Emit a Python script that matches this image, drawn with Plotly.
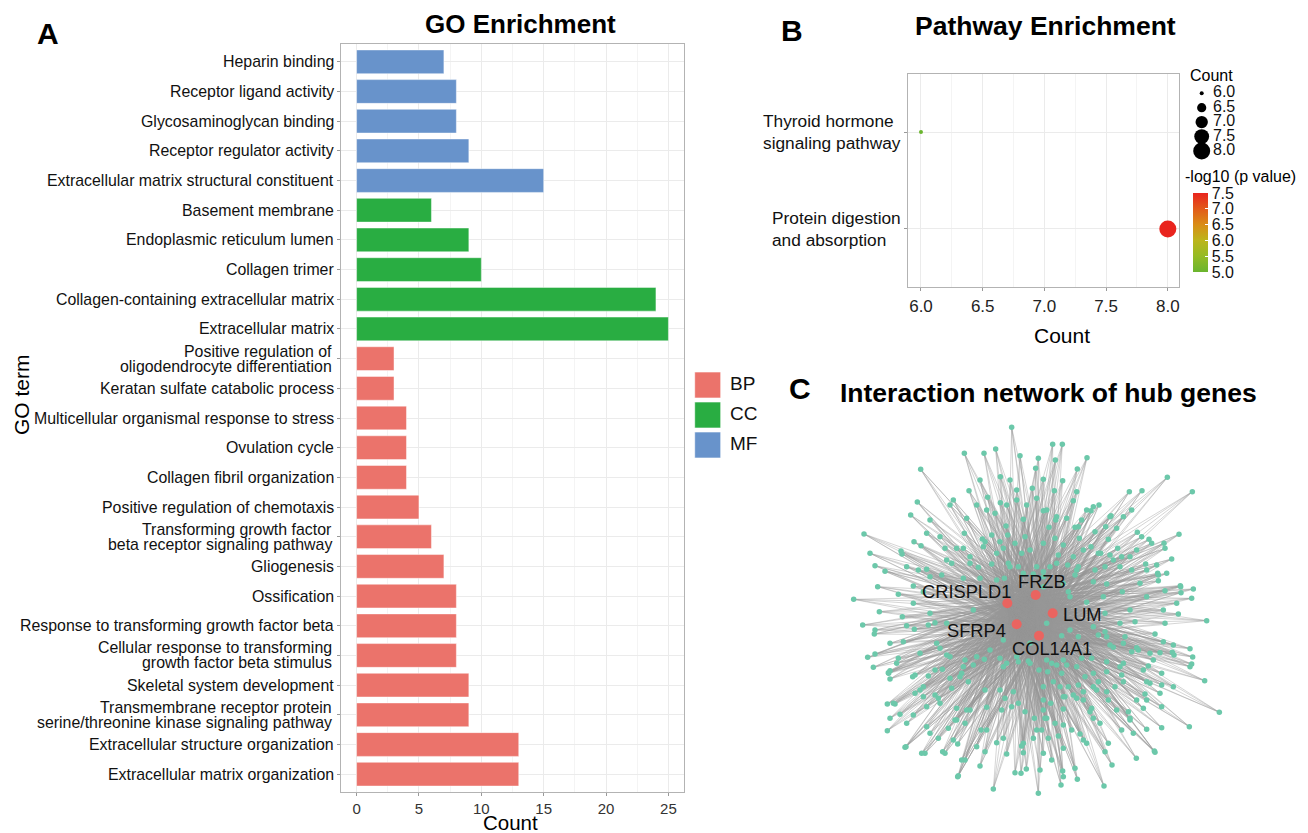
import math
import plotly.graph_objects as go

W, H = 1308, 833
FONT = "Liberation Sans, Arial, sans-serif"

# ---------------- Panel A data (top to bottom) ----------------
go_terms = [
    "Heparin binding",
    "Receptor ligand activity",
    "Glycosaminoglycan binding",
    "Receptor regulator activity",
    "Extracellular matrix structural constituent",
    "Basement membrane",
    "Endoplasmic reticulum lumen",
    "Collagen trimer",
    "Collagen-containing extracellular matrix",
    "Extracellular matrix",
    "Positive regulation of \noligodendrocyte differentiation",
    "Keratan sulfate catabolic process",
    "Multicellular organismal response to stress",
    "Ovulation cycle",
    "Collagen fibril organization",
    "Positive regulation of chemotaxis",
    "Transforming growth factor \nbeta receptor signaling pathway",
    "Gliogenesis",
    "Ossification",
    "Response to transforming growth factor beta",
    "Cellular response to transforming \ngrowth factor beta stimulus",
    "Skeletal system development",
    "Transmembrane receptor protein \nserine/threonine kinase signaling pathway",
    "Extracellular structure organization",
    "Extracellular matrix organization",
]
go_counts = [7, 8, 8, 9, 15, 6, 9, 10, 24, 25, 3, 3, 4, 4, 4, 5, 6, 7, 8, 8, 8, 9, 9, 13, 13]
go_class = ["MF"] * 5 + ["CC"] * 5 + ["BP"] * 15
class_names = ["BP", "CC", "MF"]
class_colors = {"BP": "#EB736B", "CC": "#29AD42", "MF": "#6893CB"}
go_xticks = [0, 5, 10, 15, 20, 25]

# ---------------- Panel B data ----------------
path_terms = ["Thyroid hormone\nsignaling pathway", "Protein digestion\nand absorption"]
path_counts = [6, 8]
path_logp = [5.0, 7.5]
size_legend_vals = [6.0, 6.5, 7.0, 7.5, 8.0]
cbar_ticks = [5.0, 5.5, 6.0, 6.5, 7.0, 7.5]
path_xticks = [6.0, 6.5, 7.0, 7.5, 8.0]

# ---------------- Panel C data (layout coordinates) ----------------
hub_genes = ["CRISPLD1", "FRZB", "LUM", "SFRP4", "COL14A1"]
hub_x = [532, 617, 668, 560, 627]
hub_y = [580, 555, 610, 643, 677]
node_pos = [
    (545, 52), (403, 130), (462, 130), (497, 117), (570, 137), (625, 145), (668, 103), (697, 103), (676, 150),
    (771, 143), (272, 178), (450, 210), (511, 200), (540, 210), (607, 235), (698, 212), (740, 245), (1012, 202),
    (1087, 245), (898, 245), (936, 242), (807, 285), (262, 276), (242, 315), (300, 330), (360, 285), (370, 270),
    (410, 325), (440, 285), (470, 300), (495, 310), (530, 285), (560, 270), (590, 285), (620, 265), (650, 300),
    (680, 320), (710, 325), (745, 350), (770, 300), (790, 290), (840, 320), (880, 320), (860, 355), (905, 300),
    (935, 380), (965, 400), (1047, 373), (1002, 400), (1025, 447), (980, 465), (102, 372), (120, 430), (135, 467),
    (165, 484), (216, 432), (230, 470), (213, 423), (290, 370), (330, 380), (380, 415), (350, 450), (420, 440),
    (460, 410), (510, 395), (555, 400), (600, 420), (640, 400), (700, 405), (730, 440), (760, 420), (805, 430),
    (850, 450), (900, 440), (950, 480), (985, 495), (1010, 490), (1052, 530), (1090, 537), (1085, 565), (1130, 632),
    (71, 568), (143, 530), (148, 605), (98, 645), (135, 660), (180, 700), (217, 620), (250, 580), (280, 545),
    (300, 610), (350, 640), (320, 700), (113, 742), (180, 782), (176, 790), (200, 760), (248, 800), (280, 830),
    (172, 882), (190, 880), (172, 962), (225, 1012), (285, 1030), (338, 1025), (383, 1100), (405, 1050), (490, 1137),
    (555, 1088), (573, 1090), (589, 1077), (625, 1150), (700, 1100), (742, 1108), (822, 1128), (846, 1065),
    (919, 1045), (973, 1023), (1078, 950), (1168, 907), (1124, 812), (1080, 770), (1088, 741), (1080, 716),
    (1000, 695), (960, 730), (940, 780), (995, 790), (1032, 735), (920, 713), (880, 760), (830, 785), (790, 830),
    (760, 870), (705, 860), (662, 880), (650, 925), (620, 960), (580, 1000), (520, 985), (470, 960), (420, 900),
    (380, 930), (330, 880), (280, 860), (250, 915), (300, 970), (230, 940), (370, 990), (440, 1010), (640, 1030),
    (700, 1015), (760, 990), (810, 940), (860, 900), (900, 930), (950, 870), (990, 850), (1030, 830), (1000, 600),
    (1040, 580), (950, 560), (900, 600), (870, 640), (830, 680), (790, 650), (700, 750), (650, 750), (600, 760),
    (560, 740), (520, 770), (480, 720), (440, 740), (400, 770), (360, 740), (430, 600), (500, 510), (580, 490),
    (640, 500), (700, 520), (720, 560), (740, 480), (680, 460), (620, 470), (540, 470), (400, 505), (640, 530),
    (650, 640), (600, 700), (520, 690),
    (560, 240), (617, 175), (417, 242), (473, 262), (511, 278), (528, 348), (580, 328), (403, 370), (457, 387),
    (485, 375), (533, 375), (585, 380), (345, 415), (400, 415), (465, 395), (500, 430), (520, 415), (575, 430),
    (265, 480), (290, 478), (335, 495), (365, 460), (420, 460), (445, 472), (485, 462), (535, 460), (565, 470),
    (610, 492), (450, 505), (523, 505), (205, 553), (250, 528), (300, 500), (273, 407), (252, 395),
    (742, 177), (640, 208), (673, 242), (730, 272), (783, 302), (843, 317), (755, 330), (735, 352), (795, 365),
    (827, 350), (922, 367), (957, 388), (1005, 415), (920, 420), (863, 415), (835, 388), (783, 410), (748, 385),
    (685, 435), (812, 430), (840, 435), (875, 440), (947, 462), (905, 480), (870, 470), (825, 470), (795, 480),
    (745, 470), (713, 465), (735, 495), (790, 515), (830, 522), (877, 545), (930, 520), (983, 490), (985, 512),
    (1051, 527), (1053, 548), (1005, 542), (820, 560), (770, 577), (715, 545), (660, 470), (640, 485), (675, 385),
    (657, 352), (640, 302), (677, 330),
    (230, 647), (295, 645), (315, 638), (133, 672), (253, 658), (220, 695), (135, 732), (205, 745), (270, 730),
    (330, 715), (350, 735), (130, 772), (175, 788), (180, 807), (255, 795), (295, 798), (337, 778), (395, 790),
    (360, 805), (315, 780), (463, 748), (510, 745), (530, 760), (565, 755), (595, 753), (405, 750), (430, 765),
    (415, 815), (390, 800), (270, 840), (255, 850), (315, 855), (365, 835), (465, 840), (510, 840), (550, 845),
    (565, 880), (525, 865), (195, 882), (180, 925), (210, 913), (290, 890), (325, 865), (380, 895), (410, 900),
    (470, 892), (515, 900), (545, 890), (585, 905), (290, 950), (375, 930), (355, 955), (405, 940), (453, 960),
    (228, 1010), (275, 1030), (325, 985), (345, 1030), (383, 1002), (395, 1050), (450, 1068), (465, 1025),
    (500, 998), (530, 1032), (575, 1008), (580, 1028), (385, 1097), (613, 925), (610, 985),
    (1005, 640), (975, 672), (1045, 612), (915, 635), (825, 610), (720, 660), (695, 677), (745, 680), (805, 675),
    (825, 665), (885, 680), (840, 705), (850, 712), (880, 700), (905, 725), (925, 720), (990, 728), (1027, 727),
    (1030, 705), (1085, 762), (970, 750), (955, 768), (995, 825), (960, 820), (950, 815), (875, 795), (880, 815),
    (855, 830), (830, 845), (805, 815), (790, 790), (765, 800), (755, 745), (785, 745), (830, 755), (870, 770),
    (740, 770), (710, 765), (680, 765), (665, 760), (627, 780), (653, 785), (695, 790), (745, 825), (715, 830),
    (690, 830), (670, 815), (640, 830), (800, 840), (760, 845), (730, 855), (700, 860), (640, 870), (835, 870),
    (920, 870), (945, 852), (995, 890), (940, 895), (895, 905), (900, 925), (910, 970), (950, 958), (995, 953),
    (975, 1027), (875, 960), (835, 1000), (825, 1025), (785, 895), (780, 905), (790, 925), (770, 1000), (750, 972),
    (725, 960), (700, 945), (675, 940), (685, 978), (655, 985), (665, 1050), (635, 960), (645, 925), (640, 900),
    (700, 897), (740, 865), (735, 1075), (698, 1083), (693, 1125), (630, 1080),
]
node_x = [p[0] for p in node_pos]
node_y = [p[1] for p in node_pos]
hub_label_dx = [-122, 19, 25, -25, 38]
hub_label_dy = [-37, -42, 2, 17, 38]
hub_label_anchor = ["center", "center", "left", "right", "center"]


def px(p):
    return p / W


def py(p):
    return 1 - p / H


def diam(c):
    t = (c - 6.0) / 2.0
    return math.sqrt(4.0 ** 2 + (17.0 ** 2 - 4.0 ** 2) * t)


fig = go.Figure()

# ---------------- Panel A bars ----------------
for cls in class_names:
    ys = [t for t, c in zip(go_terms, go_class) if c == cls]
    xs = [v for v, c in zip(go_counts, go_class) if c == cls]
    fig.add_trace(go.Bar(
        x=xs, y=ys, orientation="h", width=0.8, name=cls,
        marker=dict(color=class_colors[cls], line=dict(color="rgba(255,255,255,0.45)", width=1)),
        xaxis="x", yaxis="y", showlegend=False, hoverinfo="x+y",
    ))

# Panel A legend (aux axis)
fig.add_trace(go.Scatter(
    x=[17.7] * 3, y=class_names, mode="markers",
    marker=dict(symbol="square", size=26, opacity=1, color=[class_colors[c] for c in class_names],
                line=dict(color="rgba(255,255,255,0.6)", width=1)),
    xaxis="x5", yaxis="y5", showlegend=False, hoverinfo="skip",
))
fig.add_trace(go.Scatter(
    x=[40] * 3, y=class_names, mode="text", text=class_names, textposition="middle right",
    textfont=dict(size=19, color="#111", family=FONT),
    xaxis="x5", yaxis="y5", showlegend=False, hoverinfo="skip",
))

# ---------------- Panel B ----------------
cscale = [[0.0, "#6ab52e"], [0.2, "#95bb23"], [0.4, "#bcb51a"],
          [0.6, "#d98c15"], [0.8, "#e25a19"], [1.0, "#e9241e"]]
fig.add_trace(go.Scatter(
    x=path_counts, y=path_terms, mode="markers",
    marker=dict(size=[diam(c) for c in path_counts], color=path_logp, colorscale=cscale,
                cmin=min(cbar_ticks), cmax=max(cbar_ticks), opacity=1,
                line=dict(width=0),
                colorbar=dict(x=px(1193.3), xanchor="left", xpad=0, ypad=0,
                              y=py(232.5), yanchor="middle", len=79 / H, lenmode="fraction",
                              thickness=15, outlinewidth=0,
                              tickvals=cbar_ticks, ticktext=[f"{v:.1f}" for v in cbar_ticks],
                              ticks="inside", tickcolor="white", ticklen=3, tickwidth=1,
                              tickfont=dict(size=16, color="#111", family=FONT))),
    xaxis="x2", yaxis="y2", showlegend=False, cliponaxis=False,
))
# size legend
fig.add_trace(go.Scatter(
    x=[16.7] * len(size_legend_vals), y=size_legend_vals, mode="markers",
    marker=dict(size=[diam(v) for v in size_legend_vals], color="#000000", opacity=1, line=dict(width=0)),
    xaxis="x3", yaxis="y3", showlegend=False, hoverinfo="skip",
))
fig.add_trace(go.Scatter(
    x=[28] * len(size_legend_vals), y=size_legend_vals, mode="text",
    text=[f"{v:.1f}" for v in size_legend_vals], textposition="middle right",
    textfont=dict(size=16, color="#111", family=FONT),
    xaxis="x3", yaxis="y3", showlegend=False, hoverinfo="skip",
))

# ---------------- Panel C network ----------------
ex, ey = [], []
for nx, ny in zip(node_x, node_y):
    for hx, hy in zip(hub_x, hub_y):
        ex += [nx, hx, None]
        ey += [ny, hy, None]
for i, (ax_, ay_) in enumerate(zip(hub_x, hub_y)):
    for bx, by in zip(hub_x[i + 1:], hub_y[i + 1:]):
        ex += [ax_, bx, None]
        ey += [ay_, by, None]
fig.add_trace(go.Scatter(
    x=ex, y=ey, mode="lines", line=dict(color="rgba(150,150,150,0.48)", width=0.85),
    xaxis="x4", yaxis="y4", showlegend=False, hoverinfo="skip",
))
fig.add_trace(go.Scatter(
    x=node_x, y=node_y, mode="markers",
    marker=dict(size=5.5, color="#6cc8aa", opacity=1, line=dict(width=0)),
    xaxis="x4", yaxis="y4", showlegend=False, hoverinfo="skip",
))
fig.add_trace(go.Scatter(
    x=hub_x, y=hub_y, mode="markers", text=hub_genes,
    marker=dict(size=10, color="#EA6460", opacity=1, line=dict(width=0)),
    xaxis="x4", yaxis="y4", showlegend=False, hoverinfo="text",
))

annotations = []
# hub labels
for g, hx, hy, dx, dy, anc in zip(hub_genes, hub_x, hub_y, hub_label_dx, hub_label_dy, hub_label_anchor):
    annotations.append(dict(x=hx + dx, y=hy + dy, xref="x4", yref="y4", text=g, showarrow=False,
                            xanchor=anc, yanchor="middle",
                            font=dict(size=18.3, color="#111", family=FONT)))

# Panel A y labels (tight line spacing as in the reference)
for term in go_terms:
    lines = term.split("\n")
    if len(lines) == 1:
        annotations.append(dict(x=px(336), y=term, xref="paper", yref="y", text=lines[0].strip(),
                                showarrow=False, xanchor="right", yanchor="middle",
                                font=dict(size=15.9, color="#111", family=FONT)))
    else:
        for k, ln in enumerate(lines):
            annotations.append(dict(x=px(334), y=term, xref="paper", yref="y", text=ln.strip(),
                                    showarrow=False, xanchor="right", yanchor="middle",
                                    yshift=7.5 - 15 * k,
                                    font=dict(size=15.9, color="#111", family=FONT)))

# Panel B y labels
for term in path_terms:
    annotations.append(dict(x=px(903), y=term, xref="paper", yref="y2", text=term.replace("\n", "<br>"),
                            showarrow=False, xanchor="right", yanchor="middle", align="left",
                            font=dict(size=17.3, color="#111", family=FONT)))


def txt(x, y, s, size, bold=False, angle=0, color="#000", xanchor="center"):
    annotations.append(dict(x=px(x), y=py(y), xref="paper", yref="paper",
                            text=f"<b>{s}</b>" if bold else s, showarrow=False,
                            xanchor=xanchor, yanchor="middle", textangle=angle,
                            font=dict(size=size, color=color, family=FONT)))


txt(48, 33, "A", 30, bold=True)
txt(792, 31, "B", 30, bold=True)
txt(800, 388, "C", 30, bold=True)
txt(520, 24, "GO Enrichment", 26, bold=True)
txt(1045, 26, "Pathway Enrichment", 26.5, bold=True)
txt(1048, 393, "Interaction network of hub genes", 26.5, bold=True)
txt(510, 822, "Count", 20.5)
txt(22, 394, "GO term", 21, angle=270)
txt(1062, 335, "Count", 21)
txt(1211, 75, "Count", 16)
txt(1240, 177, "-log10 (p value)", 16)

grid = "#ebebeb"
minor_grid = "#f4f4f4"
border = "#b3b3b3"

fig.update_layout(
    width=W, height=H, margin=dict(l=0, r=0, t=0, b=0),
    paper_bgcolor="white", plot_bgcolor="white",
    font=dict(family=FONT, color="#111"),
    annotations=annotations,
    xaxis=dict(domain=[px(341), px(684)], range=[-1.25, 26.25], tickvals=go_xticks,
               ticks="outside", ticklen=3, tickcolor="#999", showgrid=True, gridcolor=grid,
               minor=dict(dtick=2.5, tick0=0, showgrid=True, gridcolor=minor_grid, ticks=""),
               zeroline=False, showline=True, mirror=True, linecolor=border, linewidth=1.2,
               tickfont=dict(size=15, color="#333"), anchor="y", fixedrange=True),
    yaxis=dict(domain=[py(792), py(44)], type="category", categoryorder="array",
               categoryarray=go_terms[::-1], range=[-0.6, len(go_terms) - 0.4],
               showticklabels=False, ticks="outside", ticklen=3, tickcolor="#999",
               showgrid=True, gridcolor=grid, zeroline=False, showline=True, mirror=True,
               linecolor=border, linewidth=1.2, anchor="x", fixedrange=True),
    xaxis2=dict(domain=[px(908.4), px(1179.3)], range=[5.898, 8.093], tickvals=path_xticks,
                ticktext=[f"{v:.1f}" for v in path_xticks],
                ticks="outside", ticklen=3, tickcolor="#999", showgrid=True, gridcolor=grid,
                minor=dict(dtick=0.25, tick0=6.0, showgrid=True, gridcolor=minor_grid, ticks=""),
                zeroline=False, showline=True, mirror=True, linecolor=border, linewidth=1.2,
                tickfont=dict(size=17, color="#222"), anchor="y2", fixedrange=True),
    yaxis2=dict(domain=[py(287), py(74)], type="category", categoryorder="array",
                categoryarray=path_terms[::-1], range=[-0.6, 1.6], showticklabels=False,
                ticks="outside", ticklen=3, tickcolor="#999", showgrid=True, gridcolor=grid,
                zeroline=False, showline=True, mirror=True, linecolor=border, linewidth=1.2,
                anchor="x2", fixedrange=True),
    # size legend: 6.0 at y=93.3px, 8.0 at y=151px; circles centred at x=1201.7px
    xaxis3=dict(domain=[px(1185), px(1305)], range=[0, 120], visible=False, anchor="y3", fixedrange=True),
    yaxis3=dict(domain=[py(160), py(85)], range=[8.312, 5.714], visible=False, anchor="x3", fixedrange=True),
    xaxis4=dict(domain=[px(830), px(1250)], range=[0, 1260], visible=False, anchor="y4", fixedrange=True),
    yaxis4=dict(domain=[py(820), py(410)], range=[1230, 0], visible=False, anchor="x4", fixedrange=True),
    xaxis5=dict(domain=[px(690), px(790)], range=[0, 100], visible=False, anchor="y5", fixedrange=True),
    yaxis5=dict(domain=[py(460), py(370)], type="category", categoryorder="array",
                categoryarray=class_names, range=[2.5, -0.5], visible=False, anchor="x5", fixedrange=True),
)

fig.write_html("out.html", config={"displayModeBar": False, "responsive": False},
               post_script="document.body.style.margin='0';")
